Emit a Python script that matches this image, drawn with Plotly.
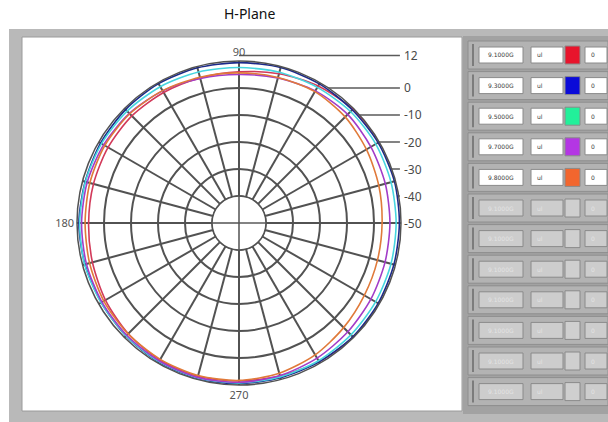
import plotly.graph_objects as go

# ---------------- data ----------------
ANGLES = list(range(0, 360, 15))  # degrees

FREQS = ["9.1000G", "9.3000G", "9.5000G", "9.7000G", "9.8000G"]

# gain in dB at each angle (0..345 step 15)
GAIN_91 = [10.3, 10.4, 10.1, 9.6, 8.6, 7.2, 6.0, 5.6, 5.8, 6.1, 6.0, 5.8,
           5.7, 6.2, 7.1, 8.0, 8.6, 8.8, 8.5, 8.7, 9.3, 9.8, 10.1, 10.3]
GAIN_93 = [9.4, 9.6, 9.5, 9.3, 9.5, 9.6, 9.4, 9.5, 9.6, 9.4, 9.2, 9.0,
           9.3, 9.1, 8.9, 9.2, 9.5, 9.6, 9.5, 9.3, 9.4, 9.6, 9.5, 9.4]
GAIN_95 = [8.2, 8.3, 8.5, 8.4, 8.0, 7.8, 7.6, 7.9, 8.3, 8.6, 8.8, 8.9,
           9.0, 9.2, 9.0, 9.1, 9.3, 9.4, 9.2, 9.0, 8.9, 8.6, 8.4, 8.3]
GAIN_97 = [5.9, 6.1, 6.4, 6.9, 6.5, 5.6, 5.0, 5.4, 6.5, 7.4, 7.9, 8.2,
           8.3, 8.5, 8.6, 8.8, 9.0, 9.2, 9.0, 8.5, 7.8, 7.0, 6.4, 6.0]
GAIN_98 = [3.0, 3.6, 4.5, 5.6, 6.2, 5.8, 5.6, 5.9, 6.6, 7.2, 7.4, 7.2,
           7.0, 7.3, 7.8, 8.1, 8.3, 8.5, 8.3, 7.6, 6.4, 4.8, 3.6, 3.1]
GAINS = [GAIN_91, GAIN_93, GAIN_95, GAIN_97, GAIN_98]

RADIAL_GRID = [-30, -20, -10, 0]
SCALE_LABELS = [12, 0, -10, -20, -30, -40, -50]
ANGLE_LABELS = {90: "90", 180: "180", 270: "270"}

# panel rows: 5 active channels, 7 unused
N_ROWS = 12
UNUSED_FREQ = "9.1000G"

# ---------------- style ----------------
LINE_COLORS = ["#d23a5a", "#1c2a8a", "#46d6e0", "#a23cc8", "#e07a3a"]
SWATCH_COLORS = ["#e8142c", "#0a0ad8", "#22f09a", "#b436e4", "#f2662e"]
GRID = "#525252"

W, H = 608, 422
CX, CY = 239, 223          # pole position (px)
K = 2.7                    # px per dB
R_LO, R_IN, R_HI = -50, -40, 10
RPX = (R_HI - R_LO) * K    # outer radius in px
S = 190                    # half-size of the overlay frame (px)


def fx(px):
    return px / W


def fy(py):
    return 1 - py / H


fig = go.Figure()
annotations = []

for name, g, c in zip(FREQS, GAINS, LINE_COLORS):
    fig.add_trace(go.Scatterpolar(
        r=g + [g[0]], theta=ANGLES + [360], mode="lines",
        line=dict(color=c, width=1.6, shape="spline", smoothing=0.8),
        name=name, showlegend=False, hoverinfo="skip"))

# inner ring of the grid
fig.add_trace(go.Scatterpolar(
    r=[R_IN] * 73, theta=list(range(0, 365, 5)), mode="lines",
    line=dict(color=GRID, width=1.5), showlegend=False, hoverinfo="skip"))

# scale lines and crosshair on an overlay in (dB - R_LO) units
for v in SCALE_LABELS:
    y = v - R_LO
    fig.add_trace(go.Scatter(
        x=[0, 59.6], y=[y, y], mode="lines", line=dict(color="#5a5a5a", width=1.5),
        showlegend=False, hoverinfo="skip", xaxis="x", yaxis="y"))
    annotations.append(dict(
        x=60.3, y=y, xref="x", yref="y", text=str(v), showarrow=False,
        xanchor="left", yanchor="middle",
        font=dict(family="Noto Sans", size=12, color="#4a4a4a")))

hole_u = R_IN - R_LO
fig.add_trace(go.Scatter(x=[-hole_u, 0], y=[0, 0], mode="lines",
                         line=dict(color=GRID, width=1.5), showlegend=False,
                         hoverinfo="skip", xaxis="x", yaxis="y"))
fig.add_trace(go.Scatter(x=[0, 0], y=[-hole_u, hole_u], mode="lines",
                         line=dict(color=GRID, width=1.5), showlegend=False,
                         hoverinfo="skip", xaxis="x", yaxis="y"))

# ---------------- frame and side panel ----------------
shapes = []
shapes.append(dict(type="rect", xref="paper", yref="paper", layer="below",
                   x0=fx(9), x1=fx(608), y0=fy(422), y1=fy(29),
                   fillcolor="#b9b9b9", line=dict(width=0)))
shapes.append(dict(type="rect", xref="paper", yref="paper", layer="below",
                   x0=fx(22), x1=fx(462), y0=fy(411), y1=fy(37),
                   fillcolor="#ffffff", line=dict(color="#9a9a9a", width=1)))
shapes.append(dict(type="rect", xref="paper", yref="paper", layer="below",
                   x0=fx(463), x1=fx(608), y0=fy(414), y1=fy(36),
                   fillcolor="#a2a2a2", line=dict(width=0)))

for i in range(N_ROWS):
    yc = 55 + 30.6 * i
    active = i < len(FREQS)
    box = "#ffffff" if active else "#cdcdcd"
    txt = "#3a3a3a" if active else "#e4e4e4"
    shapes.append(dict(type="rect", xref="paper", yref="paper",
                       x0=fx(468), x1=fx(608), y0=fy(yc + 14), y1=fy(yc - 14),
                       fillcolor="#b3b3b3", line=dict(color="#8e8e8e", width=1)))
    shapes.append(dict(type="line", xref="paper", yref="paper",
                       x0=fx(473), x1=fx(473), y0=fy(yc + 11), y1=fy(yc - 11),
                       line=dict(color="#7c7c7c", width=2)))
    for x0, x1 in [(479, 523), (531, 563), (585, 607)]:
        shapes.append(dict(type="rect", xref="paper", yref="paper",
                           x0=fx(x0), x1=fx(x1), y0=fy(yc + 8), y1=fy(yc - 8),
                           fillcolor=box, line=dict(color="#8a8a8a", width=1)))
    sw = SWATCH_COLORS[i] if active else "#cfcfcf"
    shapes.append(dict(type="rect", xref="paper", yref="paper",
                       x0=fx(565), x1=fx(580), y0=fy(yc + 9), y1=fy(yc - 9),
                       fillcolor=sw, line=dict(color="#8a8a8a", width=1)))
    label = FREQS[i] if active else UNUSED_FREQ
    for x, t, anchor in [(501, label, "center"), (535, "ul", "left"),
                         (589, "0", "left")]:
        annotations.append(dict(
            x=fx(x), y=fy(yc), xref="paper", yref="paper", text=t, showarrow=False,
            xanchor=anchor, yanchor="middle",
            font=dict(family="DejaVu Sans", size=6, color=txt)))

annotations.append(dict(x=fx(249), y=fy(13), xref="paper", yref="paper",
                        text="H-Plane", showarrow=False, xanchor="center",
                        yanchor="middle",
                        font=dict(family="Noto Sans", size=14, color="#111111")))

fig.update_layout(
    width=W, height=H, autosize=False,
    margin=dict(l=0, r=0, t=0, b=0),
    paper_bgcolor="#ffffff",
    showlegend=False,
    shapes=shapes,
    annotations=annotations,
    polar=dict(
        domain=dict(x=[fx(CX - RPX), fx(CX + RPX)], y=[fy(CY + RPX), fy(CY - RPX)]),
        hole=(R_IN - R_LO) / (R_HI - R_LO),
        bgcolor="#ffffff",
        radialaxis=dict(range=[R_IN, R_HI], tickmode="array", tickvals=RADIAL_GRID,
                        showticklabels=False, ticks="", showline=False,
                        gridcolor=GRID, gridwidth=1.5),
        angularaxis=dict(tickmode="array", tickvals=ANGLES,
                         ticktext=[ANGLE_LABELS.get(a, "") for a in ANGLES],
                         ticks="", showline=True, linecolor=GRID, linewidth=1.5,
                         gridcolor=GRID, gridwidth=1.5, rotation=0,
                         direction="counterclockwise",
                         tickfont=dict(family="Noto Sans", size=11, color="#555555")),
    ),
    xaxis=dict(domain=[fx(CX - S), fx(CX + S)], range=[-S / K, S / K],
               visible=False, fixedrange=True),
    yaxis=dict(domain=[fy(CY + S), fy(CY - S)], range=[-S / K, S / K],
               visible=False, fixedrange=True),
    plot_bgcolor="rgba(0,0,0,0)",
)

fig.write_html("out.html")
